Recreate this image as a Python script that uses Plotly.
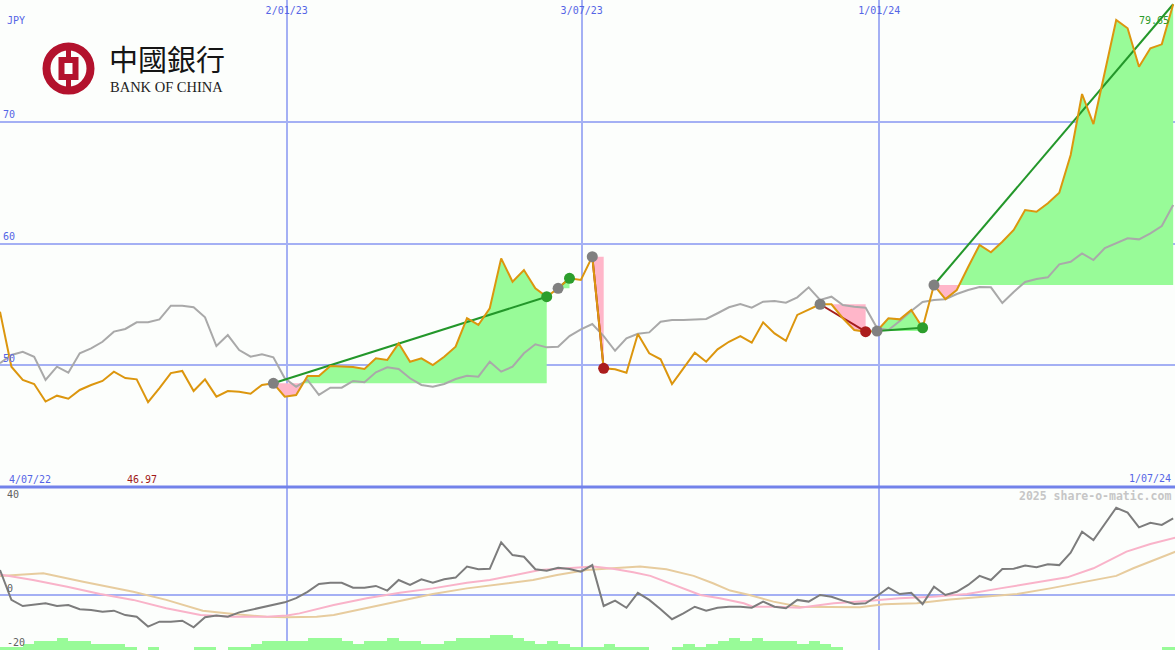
import plotly.graph_objects as go

# ---------------- data ----------------
weeks = list(range(104))  # weekly closes, index 0 = first week shown

price = [54.40, 49.88, 48.79, 48.46, 47.02, 47.50, 47.25, 47.97, 48.38, 48.71,
         49.47, 48.95, 48.84, 46.97, 48.13, 49.36, 49.53, 47.88, 48.84, 47.42,
         47.88, 47.83, 47.66, 48.38, 48.52, 47.42, 47.56, 49.12, 49.12, 49.94,
         49.90, 49.86, 49.69, 50.57, 50.43, 51.80, 50.29, 50.57, 50.02, 50.70,
         51.52, 53.86, 53.31, 54.68, 58.78, 56.86, 57.82, 56.32, 55.63, 56.32,
         57.14, 57.00, 58.92, 49.75, 49.67, 49.39, 52.57, 50.98, 50.49, 48.46,
         49.75, 51.03, 50.29, 51.31, 51.93, 52.40, 51.85, 53.53, 52.62, 52.01,
         54.13, 54.54, 55.01, 55.01, 53.86, 52.90, 52.76, 52.81, 53.86, 53.77,
         54.54, 53.08, 56.59, 55.44, 56.18, 58.07, 59.88, 59.28, 60.15, 61.11,
         62.75, 62.61, 63.30, 64.17, 67.27, 72.28, 69.81, 74.09, 78.36, 77.68,
         74.52, 76.03, 76.36, 79.65]

avg = [50.16, 50.84, 51.11, 50.70, 48.79, 49.88, 49.39, 50.98, 51.39, 51.93,
       52.76, 52.98, 53.53, 53.53, 53.77, 54.89, 54.89, 54.76, 53.94, 51.58,
       52.48, 51.25, 50.70, 50.90, 50.65, 48.93, 48.24, 48.79, 47.56, 48.16,
       48.16, 48.71, 48.60, 49.42, 49.83, 49.69, 48.93, 48.38, 48.24, 48.46,
       48.87, 49.14, 49.06, 50.29, 49.47, 49.88, 50.98, 51.72, 51.47, 51.52,
       52.40, 52.95, 53.39, 52.40, 51.19, 52.21, 52.59, 52.70, 53.58, 53.72,
       53.72, 53.77, 53.80, 54.27, 54.76, 55.03, 54.73, 55.22, 55.28, 55.14,
       55.58, 56.40, 55.36, 55.63, 54.95, 54.81, 54.73, 53.06, 52.90, 53.63,
       54.46, 55.20, 55.36, 55.42, 55.85, 56.18, 56.43, 56.40, 55.11, 56.02,
       56.84, 57.08, 57.22, 58.29, 58.50, 59.19, 58.64, 59.63, 60.04, 60.43,
       60.34, 60.84, 61.44, 63.16]

osc = [10.2, -2.0, -4.5, -4.1, -3.4, -4.5, -4.1, -5.8, -6.1, -6.8,
       -6.4, -8.2, -8.9, -12.9, -10.9, -10.9, -10.5, -13.2, -9.1, -8.4,
       -8.9, -7.1, -6.1, -4.8, -3.8, -3.0, -1.3, 1.3, 4.5, 5.0,
       5.0, 3.0, 3.0, 3.7, 1.8, 6.1, 4.1, 6.4, 5.0, 6.4,
       7.1, 11.6, 10.5, 10.7, 21.5, 16.3, 15.6, 10.5, 9.9, 11.1,
       10.6, 9.5, 12.2, -4.5, -2.3, -5.2, 0.9, -2.0, -5.8, -9.9,
       -7.5, -4.8, -6.4, -5.2, -4.8, -4.8, -5.2, -2.7, -4.8, -5.4,
       -2.0, -2.7, 0.0, -0.7, -2.3, -3.7, -3.4, -0.4, 3.0, 0.4,
       0.9, -3.7, 3.4, 0.0, 1.3, 4.1, 7.8, 6.1, 10.6, 10.7,
       12.0, 11.3, 12.5, 12.2, 17.3, 25.8, 22.4, 28.9, 35.6, 33.6,
       27.6, 29.5, 28.6, 31.3]

pink_x = [0.0, 2.9, 5.9, 8.8, 11.7, 14.6, 17.6, 20.5, 23.4, 25.2, 26.3, 29.3, 32.2,
          35.1, 38.0, 41.0, 43.0, 45.4, 47.4, 49.8, 52.1, 53.8, 55.6, 57.1, 58.5,
          60.0, 61.5, 63.2, 65.3, 66.1, 68.2, 70.2, 73.2, 76.1, 79.0, 81.9, 84.9,
          87.8, 90.7, 93.7, 96.0, 98.9, 101.0, 103.2]
pink_v = [8.4, 6.1, 3.4, 0.4, -2.0, -5.4, -8.2, -8.9, -8.9, -8.4, -7.5, -4.1, -1.3,
          0.9, 2.7, 5.0, 6.1, 8.2, 10.2, 10.9, 11.6, 10.7, 9.3, 7.8, 5.4,
          2.7, 0.0, -1.3, -3.4, -4.8, -4.8, -5.2, -3.4, -2.4, -1.3, -0.7, 0.4,
          2.7, 4.8, 7.2, 10.9, 17.7, 20.8, 23.4]

tan_x = [0.0, 3.8, 7.3, 11.7, 14.6, 17.8, 20.5, 23.4, 25.2, 27.8, 29.3, 32.2, 35.1,
         38.0, 41.0, 43.9, 46.8, 48.9, 51.5, 53.8, 56.2, 58.5, 60.9, 62.6, 64.1,
         65.8, 67.9, 70.2, 73.2, 75.5, 77.6, 80.5, 83.4, 86.3, 89.3, 92.2, 95.1,
         98.0, 99.5, 103.2]
tan_v = [7.8, 8.9, 5.4, 1.3, -2.0, -6.4, -7.8, -8.9, -9.1, -8.9, -8.2, -5.4, -2.3,
         0.4, 2.7, 4.5, 6.1, 8.2, 10.2, 10.9, 11.6, 10.5, 7.8, 4.8, 1.8,
         0.0, -2.7, -4.8, -4.8, -5.0, -3.8, -3.4, -1.8, -0.7, 0.4, 2.7, 5.4,
         7.8, 10.9, 17.7]

volume = [1, 1, 2, 3, 3, 4, 3, 3, 2, 2, 2, 1, 0, 1, 0, 0, 0, 1, 1, 0,
          1, 1, 2, 3, 3, 3, 3, 4, 4, 4, 3, 2, 3, 3, 4, 3, 3, 2, 2, 3,
          4, 4, 4, 5, 5, 4, 3, 2, 3, 2, 1, 1, 1, 2, 1, 1, 1, 0, 0, 1,
          2, 1, 2, 3, 4, 3, 4, 3, 3, 3, 2, 3, 2, 1, 0, 0, 0, 0, 0, 0,
          0, 0, 0, 0, 0, 0, 0, 0, 0, 0, 0, 0, 0, 0, 0, 0, 0, 0, 0, 0,
          0, 0, 1, 1]

date_tick_pos = [25.17, 51.07, 77.2]
date_tick_text = ["2/01/23", "3/07/23", "1/01/24"]
first_date = "4/07/22"
last_date = "1/07/24"
osc_tick_vals = [40, 0, -20]

trade_entry = [24, 49, 52, 72, 77, 82]
trade_exit = [48, 50, 53, 76, 81, 103]
trade_open = [False, False, False, False, False, True]

# ---------------- style ----------------
BG = "#fcfefc"
GRID = "#a4b0f4"
SEP = "#7282ea"
BLUE_TXT = "#5565e6"
ORANGE = "#dc960e"
GRAY = "#a9a9a9"
DGRAY = "#7c7c7c"
PINKL = "#f9b3c9"
TAN = "#e7cc9e"
GFILL = "#98fb98"
PFILL = "#ffb6c9"
GLINE = "#23972a"
RLINE = "#a51c1c"
MONO = "DejaVu Sans Mono"
W, H = 1175, 650
SPLIT = 1 - 487 / H  # paper y of panel separator

fig = go.Figure()

# volume-like bars in lower panel
fig.add_trace(go.Bar(x=[w + 0.5 for w in weeks], y=volume, width=1.0,
                     marker=dict(color=GFILL, line=dict(width=0)),
                     xaxis="x2", yaxis="y3", hoverinfo="skip"))


def split_fill(js, vals, level):
    xs, ys = [], []
    for k in range(len(js)):
        if k > 0:
            y0, y1 = vals[k - 1], vals[k]
            if (y0 - level) * (y1 - level) < 0:
                t = (level - y0) / (y1 - y0)
                xs.append(js[k - 1] + t * (js[k] - js[k - 1]))
                ys.append(level)
        xs.append(js[k])
        ys.append(vals[k])
    up = [max(v, level) for v in ys]
    dn = [min(v, level) for v in ys]
    return xs, up, dn


# trade fills
for a, b in zip(trade_entry, trade_exit):
    js = weeks[a:b + 1]
    vals = price[a:b + 1]
    lvl = price[a]
    xs, up, dn = split_fill(js, vals, lvl)
    for arr, col in ((up, GFILL), (dn, PFILL)):
        fig.add_trace(go.Scatter(x=xs + xs[::-1], y=arr + [lvl] * len(xs),
                                 fill="toself", fillcolor=col, mode="none",
                                 xaxis="x", yaxis="y", hoverinfo="skip"))

# moving average
fig.add_trace(go.Scatter(x=weeks, y=avg, mode="lines",
                         line=dict(color=GRAY, width=2), xaxis="x", yaxis="y"))

# trade lines (under the price line)
for a, b, op in zip(trade_entry, trade_exit, trade_open):
    win = price[b] >= price[a]
    fig.add_trace(go.Scatter(x=[weeks[a], weeks[b]], y=[price[a], price[b]],
                             mode="lines", line=dict(color=GLINE if win else RLINE, width=2),
                             xaxis="x", yaxis="y"))

# price
fig.add_trace(go.Scatter(x=weeks, y=price, mode="lines",
                         line=dict(color=ORANGE, width=2), xaxis="x", yaxis="y"))

# trade markers
for a, b, op in zip(trade_entry, trade_exit, trade_open):
    win = price[b] >= price[a]
    fig.add_trace(go.Scatter(x=[weeks[a]], y=[price[a]], mode="markers",
                             marker=dict(color="#808080", size=11), xaxis="x", yaxis="y"))
    if not op:
        fig.add_trace(go.Scatter(x=[weeks[b]], y=[price[b]], mode="markers",
                                 marker=dict(color="#2c9e2c" if win else "#ab1d1d", size=11),
                                 xaxis="x", yaxis="y"))

# oscillator panel
fig.add_trace(go.Scatter(x=tan_x, y=tan_v, mode="lines", line=dict(color=TAN, width=2),
                         xaxis="x2", yaxis="y2"))
fig.add_trace(go.Scatter(x=pink_x, y=pink_v, mode="lines", line=dict(color=PINKL, width=2),
                         xaxis="x2", yaxis="y2"))
fig.add_trace(go.Scatter(x=weeks, y=osc, mode="lines", line=dict(color=DGRAY, width=2),
                         xaxis="x2", yaxis="y2"))

xr = [0, W / 11.39]
fig.update_layout(
    width=W, height=H, margin=dict(l=0, r=0, t=0, b=0),
    paper_bgcolor=BG, plot_bgcolor=BG, showlegend=False, bargap=0,
    hovermode=False,
    xaxis=dict(domain=[0, 1], anchor="y", range=xr, side="top",
               tickvals=date_tick_pos, ticktext=date_tick_text,
               ticklabelposition="inside", ticks="", ticklabelstandoff=4,
               tickfont=dict(family=MONO, size=10, color=BLUE_TXT),
               showgrid=True, gridcolor=GRID, gridwidth=1.5,
               zeroline=False, showline=False),
    yaxis=dict(domain=[SPLIT, 1], anchor="x", range=[40, 80],
               tickvals=[50, 60, 70], ticklabelposition="inside top", ticks="",
               tickfont=dict(family=MONO, size=10, color=BLUE_TXT),
               showgrid=True, gridcolor=GRID, gridwidth=2,
               zeroline=False, showline=False),
    xaxis2=dict(domain=[0, 1], anchor="y2", range=xr, matches="x",
                tickvals=date_tick_pos, showticklabels=False, ticks="",
                showgrid=True, gridcolor=GRID, gridwidth=1.5,
                zeroline=False, showline=False),
    yaxis2=dict(domain=[0, SPLIT], anchor="x2", range=[-22.45, 44.08],
                showticklabels=False, ticks="",
                showgrid=False, zeroline=True, zerolinecolor=GRID, zerolinewidth=2,
                showline=False),
    yaxis3=dict(domain=[0, SPLIT], anchor="x2", overlaying="y2", range=[0, 163 / 3],
                visible=False),
)

RED = "#b3122d"


def px_x(v):
    return v / W


def px_y(v):
    return 1 - v / H


shapes = [
    dict(type="line", xref="paper", yref="paper", x0=0, x1=1, y0=SPLIT, y1=SPLIT,
         line=dict(color=SEP, width=3)),
    # Bank of China logo
    dict(type="circle", xref="paper", yref="paper",
         x0=px_x(68.5 - 22), x1=px_x(68.5 + 22), y0=px_y(68.5 + 22), y1=px_y(68.5 - 22),
         line=dict(color=RED, width=8)),
    dict(type="rect", xref="paper", yref="paper",
         x0=px_x(61.5), x1=px_x(75.5), y0=px_y(77), y1=px_y(60),
         line=dict(color=RED, width=6)),
    dict(type="rect", xref="paper", yref="paper",
         x0=px_x(66), x1=px_x(71), y0=px_y(58), y1=px_y(44),
         fillcolor=RED, line=dict(width=0)),
    dict(type="rect", xref="paper", yref="paper",
         x0=px_x(66), x1=px_x(71), y0=px_y(93), y1=px_y(79),
         fillcolor=RED, line=dict(width=0)),
]

ann = [
    dict(text="JPY", x=px_x(5), y=px_y(21), xanchor="left", yanchor="middle",
         font=dict(family=MONO, size=10, color=BLUE_TXT)),
    dict(text=first_date, x=px_x(7), y=px_y(479), xanchor="left", yanchor="middle",
         font=dict(family=MONO, size=10, color=BLUE_TXT)),
    dict(text=f"{min(price):.2f}", x=px_x(142), y=px_y(479), xanchor="center", yanchor="middle",
         font=dict(family=MONO, size=10, color="#a01818")),
    dict(text=last_date, x=px_x(1173), y=px_y(478.5), xanchor="right", yanchor="middle",
         font=dict(family=MONO, size=10, color=BLUE_TXT)),
    dict(text="<b>2025 share-o-matic.com</b>", x=px_x(1173), y=px_y(496), xanchor="right",
         yanchor="middle", font=dict(family=MONO, size=11.5, color="#c6c6c6")),
    dict(text=f"{price[-1]:.2f}", x=px_x(1171), y=px_y(21), xanchor="right", yanchor="middle",
         font=dict(family=MONO, size=10, color="#2a9a2a")),
    dict(text="中國銀行", x=px_x(167), y=px_y(58), xanchor="center", yanchor="middle",
         font=dict(family="Noto Sans CJK TC", size=29, color="#151515")),
    dict(text="BANK OF CHINA", x=px_x(166), y=px_y(87), xanchor="center", yanchor="middle",
         font=dict(family="Liberation Serif", size=14.5, color="#222222")),
]
# oscillator scale labels, placed just above their levels on the lower axis
osc_label_shift = {40: -5, 0: -1, -20: -6}
for v in osc_tick_vals:
    ann.append(dict(text=str(v), x=px_x(5), y=v, yref="y2", xanchor="left",
                    yanchor="bottom", yshift=osc_label_shift[v],
                    font=dict(family=MONO, size=10, color="#606060")))
for a in ann:
    a.setdefault("yref", "paper")
    a.update(xref="paper", showarrow=False)

fig.update_layout(shapes=shapes, annotations=ann)

fig.write_html("out.html", config={"displayModeBar": False},
               post_script="document.body.style.margin='0';document.body.style.overflow='hidden';")
